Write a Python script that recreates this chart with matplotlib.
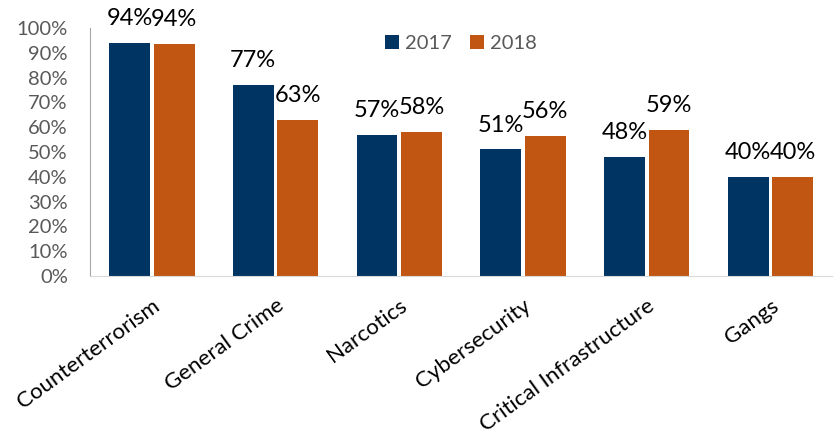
import matplotlib.pyplot as plt
import numpy as np
from matplotlib.ticker import PercentFormatter

plt.rcParams['font.family'] = ['Lato', 'DejaVu Sans']

categories = ['Counterterrorism', 'General Crime', 'Narcotics', 'Cybersecurity',
              'Critical Infrastructure', 'Gangs']
vals_2017 = [94, 77, 57, 51, 48, 40]
vals_2018 = [93.6, 63, 58, 56.4, 59, 39.8]

navy = '#003462'
orange = '#C05612'

fig = plt.figure(figsize=(8.37, 4.36), dpi=100)
ax = fig.add_axes([0.1075, 0.367, 0.887, 0.569])

x = np.arange(len(categories))
w = 0.33
gap = 0.03
b1 = ax.bar(x - (w + gap) / 2, vals_2017, w, color=navy, label='2017')
b2 = ax.bar(x + (w + gap) / 2, vals_2018, w, color=orange, label='2018')

for bars, vals in [(b1, vals_2017), (b2, vals_2018)]:
    for bar, v in zip(bars, vals):
        ax.annotate(f'{v:.0f}%', (bar.get_x() + bar.get_width() / 2, v),
                    xytext=(0, 10), textcoords='offset points',
                    ha='center', va='bottom', fontsize=17, color='#000000')

ax.set_xlim(-0.5, len(categories) - 0.5)
ax.set_ylim(0, 100)
ax.set_yticks(np.arange(0, 101, 10))
ax.yaxis.set_major_formatter(PercentFormatter(decimals=0))
ax.tick_params(axis='y', length=0, labelsize=14.5, labelcolor='#595959', pad=16)
ax.tick_params(axis='x', length=0, labelsize=16, pad=14)
ax.set_xticks(x)
ax.set_xticklabels(categories, rotation=36, ha='right', rotation_mode='anchor')

for s in ['top', 'right']:
    ax.spines[s].set_visible(False)
ax.spines['left'].set_color('#A6A6A6')
ax.spines['bottom'].set_color('#D9D9D9')

ax.legend(loc='upper center', bbox_to_anchor=(0.5, 1.045), ncol=2, frameon=False,
          fontsize=14.5, labelcolor='#595959', handlelength=0.7, handleheight=0.7,
          handletextpad=0.3, columnspacing=0.9)

fig.savefig('out.png', dpi=100)
